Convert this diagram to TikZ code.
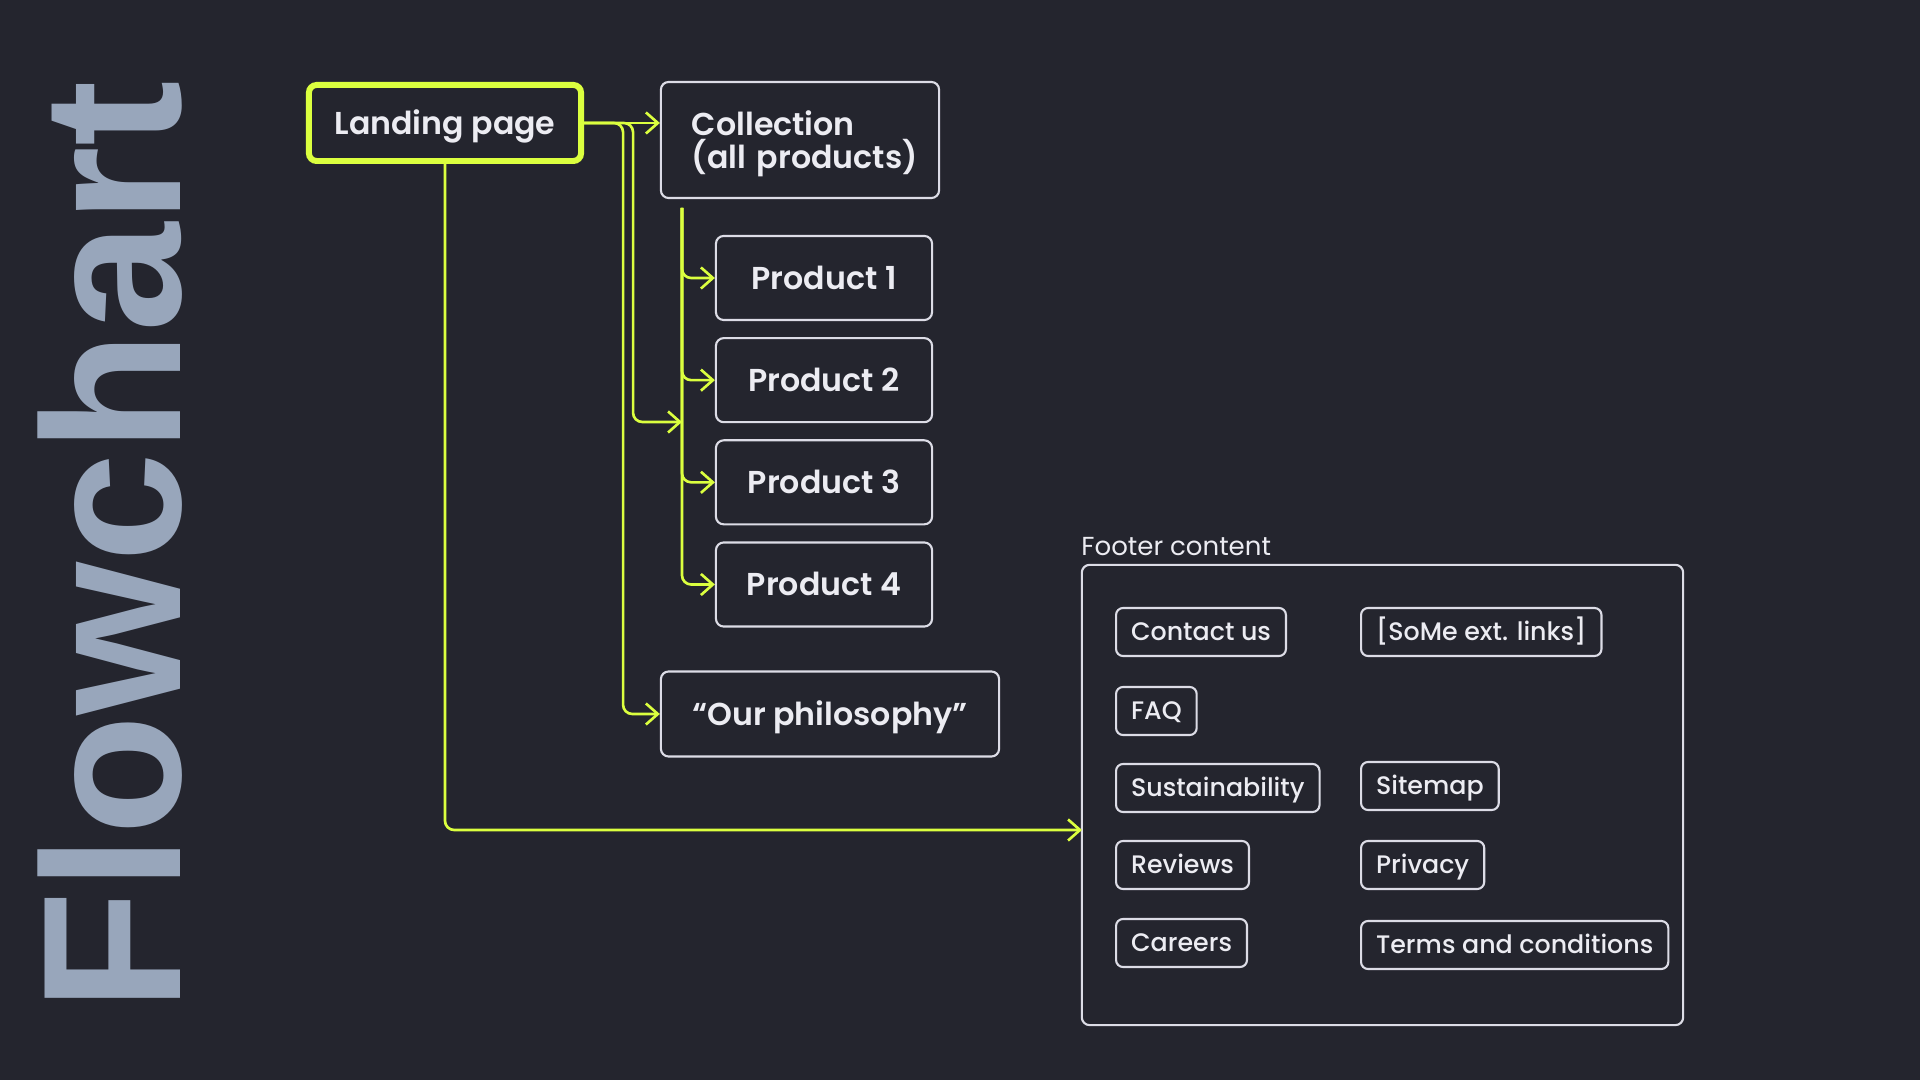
\documentclass[tikz,border=0pt]{standalone}
\usepackage{fontspec}
\setmainfont{Poppins}
\newfontfamily\medfont{Poppins Medium}
\newfontfamily\boldfont{Poppins SemiBold}
\newfontfamily\titlefont{Liberation Sans}
\usetikzlibrary{arrows.meta,positioning}

\definecolor{bg}{HTML}{24252E}
\definecolor{lime}{HTML}{DBFF3F}
\definecolor{edge}{HTML}{DCDCE6}
\definecolor{ink}{HTML}{ECECF2}
\definecolor{slate}{HTML}{98A6BB}

\begin{document}
\begin{tikzpicture}[
		x=0.01cm, y=-0.01cm,
		node distance=0.16cm,
		pagebox/.style={draw=edge, line width=0.6pt, rounded corners=2.2pt, text=ink, inner sep=0pt, font=\boldfont\fontsize{9}{9.4}\selectfont},
		page/.style={pagebox, text height=6.3pt, text depth=0pt},
		product/.style={page, minimum width=2.16cm, minimum height=0.84cm},
		item/.style={draw=edge, line width=0.6pt, rounded corners=2pt, text=ink, inner xsep=0.15cm, inner ysep=0pt, minimum height=0.48cm, text height=5pt, text depth=0pt, anchor=west, font=\medfont\fontsize{7.2}{9}\selectfont},
		link/.style={draw=lime, line width=0.75pt, rounded corners=2.6pt, -{Straight Barb[length=3.4pt,width=6pt]}},
	]
		\fill[bg] (0,0) rectangle (1920,1080);
		\useasboundingbox (0,0) rectangle (1920,1080);

		\node (title) [rotate=90, text=slate, inner sep=0pt, font=\titlefont\bfseries\fontsize{56}{56}\selectfont] at (110,546) {Flowchart};

		\node (land) [page, draw=lime, line width=1.7pt, minimum width=2.72cm, minimum height=0.76cm] at (445,123) {Landing page};
		\node (coll) [pagebox, minimum width=2.78cm, minimum height=1.16cm, text width=2.16cm, align=left] at (800,140) {\rule{0pt}{9pt}Collection\\\mbox{(all products)}};
		\node (p1) [product] at (824,278) {Product 1};
		\node (p2) [product, below=of p1] {Product 2};
		\node (p3) [product, below=of p2] {Product 3};
		\node (p4) [product, below=of p3] {Product 4};
		\node (phil) [page, minimum width=3.38cm, minimum height=0.85cm] at (830,714) {“Our philosophy”};

		% footer
		\node (footer) [draw=edge, line width=0.6pt, rounded corners=2.2pt, minimum width=6.01cm, minimum height=4.6cm] at (1382.5,795) {};
		\node (foottitle) [anchor=south west, inner xsep=0pt, inner ysep=2pt, text=ink, font=\fontsize{7.4}{9}\selectfont] at (footer.north west) {Footer content};
		\node (contact) [item] at (1115,632) {Contact us};
		\node (faq) [item] at (1115,711) {FAQ};
		\node (sust) [item] at (1115,788) {Sustainability};
		\node (rev) [item] at (1115,865) {Reviews};
		\node (car) [item] at (1115,943) {Careers};
		\node (some) [item] at (1360,632) {[SoMe ext. links]};
		\node (smap) [item] at (1360,786) {Sitemap};
		\node (priv) [item] at (1360,865) {Privacy};
		\node (terms) [item] at (1360,945) {Terms and conditions};

		\coordinate (trunk) at (682,208);
		\coordinate (join) at (682,422);
		\coordinate (fin) at (1082,830);

		\draw[link] (land.east) -- (land.east -| coll.west);
		\draw[link] (land.east) -- ++(39,0) |- (phil.west);
		\draw[link] (land.east) -- ++(49,0) |- (join);
		\foreach \p in {p1,p2,p3,p4}
			\draw[link] (trunk) |- (\p.west);
		\draw[link] (land.south) |- (fin);
	\end{tikzpicture}
\end{document}
